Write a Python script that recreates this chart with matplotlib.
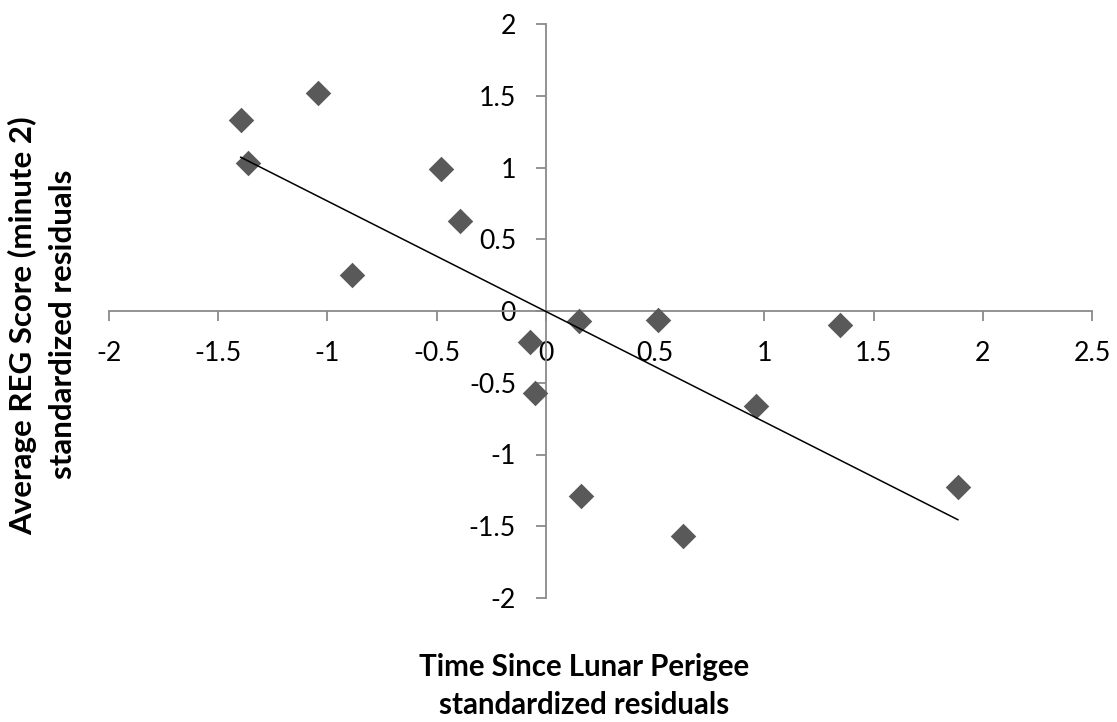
import numpy as np
import matplotlib
matplotlib.use("Agg")
import matplotlib.pyplot as plt

plt.rcParams['font.family'] = ['Lato', 'DejaVu Sans']

x_vals = [-1.397, -1.044, -1.364, -0.481, -0.394, -0.888, -0.073, -0.050,
          0.151, 0.160, 0.513, 0.627, 0.962, 1.346, 1.886]
y_vals = [1.331, 1.519, 1.031, 0.990, 0.627, 0.251, -0.216, -0.571,
          -0.070, -1.289, -0.063, -1.568, -0.662, -0.098, -1.226]
x_ticks = [-2, -1.5, -1, -0.5, 0, 0.5, 1, 1.5, 2, 2.5]
y_ticks = [-2, -1.5, -1, -0.5, 0, 0.5, 1, 1.5, 2]
x_label = ["Time Since Lunar Perigee", "standardized residuals"]
y_label = ["Average REG Score (minute 2)", "standardized residuals"]

W, H = 1117, 722
fig = plt.figure(figsize=(W / 100, H / 100), dpi=100)
L, R, T, B = 109, 1092, 24, 598
ax = fig.add_axes([L / W, 1 - B / H, (R - L) / W, (B - T) / H])

xs = np.array(x_vals)
ys = np.array(y_vals)
ax.scatter(xs, ys, marker='D', s=13 ** 2, color='#595959', zorder=3, linewidths=0)

slope, intercept = np.polyfit(xs, ys, 1)
lx = np.array([xs.min(), xs.max()])
ax.plot(lx, slope * lx + intercept, color='black', lw=1.1, zorder=4)

ax.set_xlim(-2, 2.5)
ax.set_ylim(-2, 2)
for s in ['top', 'right']:
    ax.spines[s].set_visible(False)
ax.spines['left'].set_position(('data', 0))
ax.spines['bottom'].set_position(('data', 0))
axis_col = '#8a8a8a'
for s in ['left', 'bottom']:
    ax.spines[s].set_color(axis_col)
    ax.spines[s].set_linewidth(1.3)


def fit_size(text, target_px, weight='normal', base=20):
    t = fig.text(0, 0, text, fontsize=base, fontweight=weight)
    fig.canvas.draw()
    w = t.get_window_extent().width
    t.remove()
    return base * target_px / w


tick_fs = fit_size("-1.5", 47)
xlab_fs = fit_size(x_label[0], 332, 'bold')
ylab_fs = fit_size(y_label[0], 418, 'bold')

ax.set_xticks(x_ticks)
ax.set_yticks(y_ticks)
ax.set_xticklabels([f"{v:g}" for v in x_ticks])
ax.set_yticklabels([f"{v:g}" for v in y_ticks])
ax.tick_params(axis='both', direction='out', length=7.5, width=1.3, color=axis_col,
               labelsize=tick_fs, labelcolor='black')
ax.tick_params(axis='x', pad=14)
ax.tick_params(axis='y', pad=14)

fig.text(584 / W, 1 - 667 / H, x_label[0], ha='center', va='center',
         fontsize=xlab_fs, fontweight='bold')
fig.text(584 / W, 1 - 705 / H, x_label[1], ha='center', va='center',
         fontsize=xlab_fs, fontweight='bold')
fig.text(23 / W, 1 - 326 / H, y_label[0], ha='center', va='center',
         fontsize=ylab_fs, fontweight='bold', rotation=90)
fig.text(63 / W, 1 - 324 / H, y_label[1], ha='center', va='center',
         fontsize=ylab_fs, fontweight='bold', rotation=90)

fig.savefig("out.png", dpi=100)
